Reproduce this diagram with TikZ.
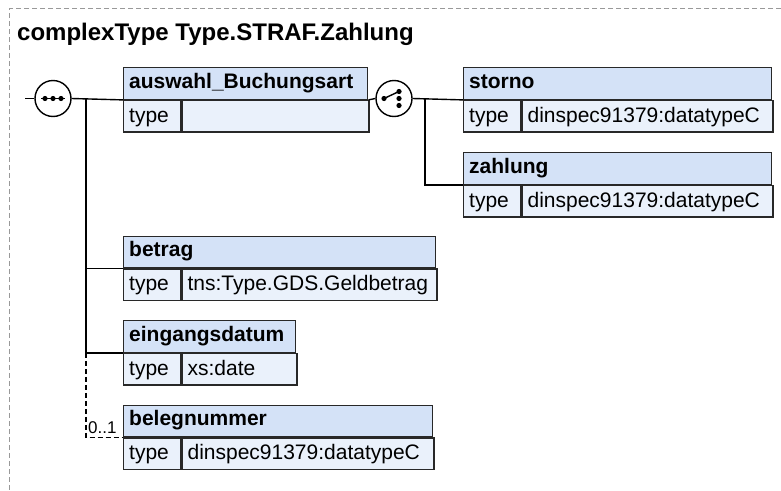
\documentclass[tikz,border=0pt]{standalone}
\usepackage{fontspec}
\setmainfont{Liberation Sans}
\usetikzlibrary{calc}
\definecolor{hdrcol}{RGB}{212,226,247}
\definecolor{bdycol}{RGB}{234,241,251}
\definecolor{bordcol}{RGB}{40,40,40}
\tikzset{
  hdr/.style={draw=bordcol, fill=hdrcol, line width=1.4pt, inner sep=0pt, minimum height=31.5pt, anchor=north west},
  bdy/.style={draw=bordcol, fill=bdycol, line width=1.4pt, inner sep=0pt, minimum height=31.5pt, anchor=north west},
  ttl/.style={anchor=base west, inner sep=0pt, font=\bfseries\fontsize{21}{25}\selectfont},
  txt/.style={anchor=base west, inner sep=0pt, font=\fontsize{21}{25}\selectfont},
  conn/.style={line width=1.4pt, black},
  optconn/.style={line width=1.4pt, black, dash pattern=on 5pt off 3pt},
  compo/.style={circle, draw=black, fill=white, line width=1.4pt, minimum size=36pt, inner sep=0pt},
}
\newcommand\elbox[7]{%
  \node[hdr, minimum width=#4pt] (#1) at (#2,#3) {};
  \node[bdy, minimum width=#5pt] (#1-t) at (#1.south west) {};
  \node[bdy, minimum width=#4pt-#5pt] (#1-v) at (#1-t.north east) {};
  \node[ttl] (#1-name) at ($(#1.north west)+(6,21)$) {#6};
  \node[txt] (#1-tlab) at ($(#1-t.north west)+(6,22.5)$) {type};
  \node[txt] (#1-tval) at ($(#1-v.north west)+(6,22.5)$) {#7};
}
\begin{document}
\begin{tikzpicture}[x=1pt,y=-1pt]
\useasboundingbox (0,0) rectangle (781,490);
\draw[gray!80, line width=0.8pt, dash pattern=on 5pt off 3pt] (781,8.5) -- (9.5,8.5) -- (9.5,490);
\node[anchor=base west, inner sep=0pt, font=\bfseries\fontsize{24}{28}\selectfont] (title) at (17,40) {complexType Type.STRAF.Zahlung};

\elbox{auswahl}{123}{67}{244}{57}{auswahl\_Buchungsart}{}
\elbox{storno}{463}{67}{308}{57}{storno}{dinspec91379:datatypeC}
\elbox{zahlung}{463}{152}{308}{57}{zahlung}{dinspec91379:datatypeC}
\elbox{betrag}{123}{235.5}{312}{57}{betrag}{tns:Type.GDS.Geldbetrag}
\elbox{eing}{123}{320}{172}{57}{eingangsdatum}{xs:date}
\elbox{beleg}{123}{404.5}{309}{57}{belegnummer}{dinspec91379:datatypeC}

% sequence compositor
\coordinate (start) at (25,98.5);
\node[compo] (seq) at (53,98.5) {};
\draw[conn] (start) -- (seq.west);
\draw[conn] (seq.east) -- (auswahl.south west);
\coordinate (j1) at (86,98.5);
\draw[conn] (j1) |- (betrag.south west);
\draw[conn] (j1) |- (eing.south west);
\draw[optconn] (eing.south west -| j1) |- (beleg.south west);
\draw[conn] ($(seq)+(-12,0)$) -- ($(seq)+(12,0)$);
\foreach \dx in {-8,0,8} \fill ($(seq)+(\dx,0)$) circle (2.6pt);
\node[anchor=base west, inner sep=0pt, font=\fontsize{17}{20}\selectfont] (card) at (88,433) {0..1};

% choice compositor
\node[compo] (choice) at (394,98.5) {};
\draw[conn] (auswahl.south east) -- (choice.west);
\draw[conn] (choice.east) -- (storno.south west);
\coordinate (j2) at (425,98.5);
\draw[conn] (j2) |- (zahlung.south west);
\draw[conn] ($(choice)+(-10,0)$) -- ($(choice)+(5,-7)$);
\foreach \px/\py in {-10/0,5/-7,5/0,5/7} \fill ($(choice)+(\px,\py)$) circle (2.6pt);
\end{tikzpicture}
\end{document}
